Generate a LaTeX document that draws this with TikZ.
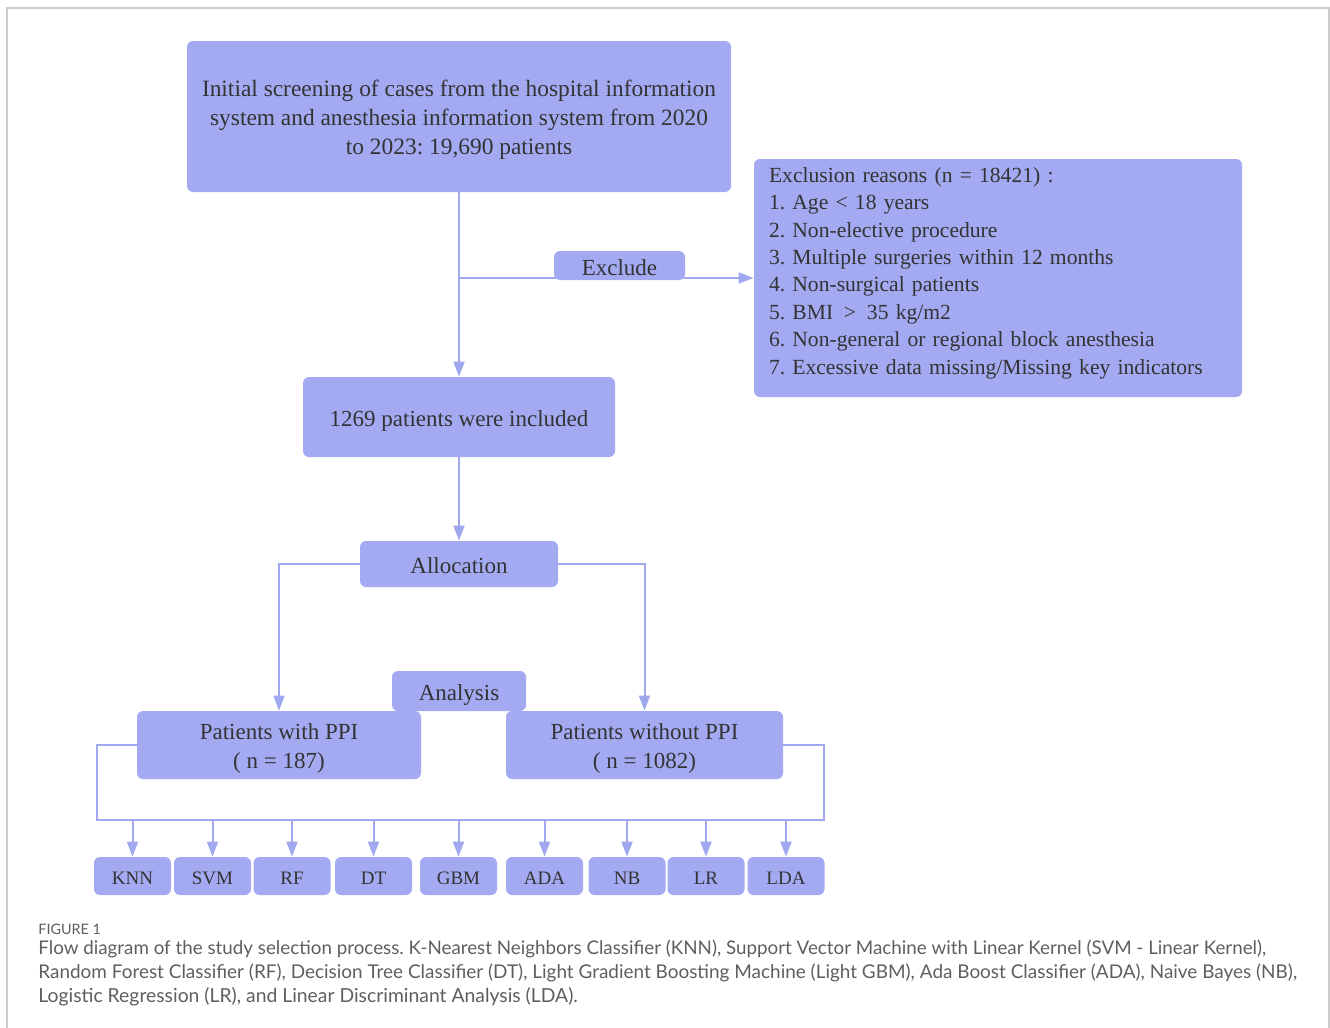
\documentclass[tikz,border=0pt]{standalone}
\usepackage{fontspec}
\setmainfont{Liberation Serif}
\newfontfamily\capfont{Lato}
\usetikzlibrary{arrows.meta}
\frenchspacing
\definecolor{boxc}{HTML}{A3AAF2}
\definecolor{linec}{HTML}{A0A8F0}
\definecolor{txtc}{HTML}{333333}
\definecolor{capc}{HTML}{5E5E5E}
\definecolor{framec}{HTML}{CCCCCC}
\tikzset{
  box/.style={fill=boxc, draw=none, rounded corners=3pt, inner sep=0pt, text=txtc, align=center,
    font=\fontsize{11.5}{14.5}\selectfont},
  one/.style={box, text height=11.8pt, text depth=2pt},
  small/.style={box, minimum width=38.5pt, minimum height=19pt, text height=10.2pt, text depth=2pt,
    font=\fontsize{9.5}{11}\selectfont},
  conn/.style={draw=linec, line width=1pt},
  arr/.style={conn, -{Triangle[length=7.5pt,width=5.5pt]}},
  capline/.style={anchor=base west, inner sep=0pt, text=capc},
}
\begin{document}
\begin{tikzpicture}[x=0.5pt,y=-0.5pt]
\useasboundingbox (0,0) rectangle (1330,1028);
\draw[framec, line width=0.6pt] (7,1040) -- (7,8) -- (1329,8) -- (1329,1040);

\node[box, minimum width=272pt, minimum height=75.5pt, text height=40.1pt, text depth=2pt,
  font=\fontsize{11.7}{14.5}\selectfont] (top) at (459,116.5)
  {Initial screening of cases from the hospital information\\system and anesthesia information system from 2020\\to 2023: 19,690 patients};
\node[box, minimum width=244pt, minimum height=119pt, text width=229pt, align=left,
  text height=8pt, text depth=103.7pt,
  font=\fontsize{10.8}{13.7}\selectfont] (excl) at (998,278)
  {Exclusion reasons (n = 18421) :\\
   1. Age < 18 years\\
   2. Non-elective procedure\\
   3. Multiple surgeries within 12 months\\
   4. Non-surgical patients\\
   5. BMI \,>\, 35 kg/m2\\
   6. Non-general or regional block anesthesia\\
   7. Excessive data missing/Missing key indicators};
\node[one, minimum width=156pt, minimum height=40pt] (incl) at (459,417) {1269 patients were included};
\node[one, minimum width=99pt, minimum height=23pt] (alloc) at (459,564) {Allocation};
\node[one, minimum width=67pt, minimum height=20pt] (anal) at (459,691) {Analysis};
\node[box, minimum width=142pt, minimum height=34pt, text height=25.6pt, text depth=2pt] (ppi) at (279,745)
  {Patients with PPI\\( n = 187)};
\node[box, minimum width=138.5pt, minimum height=34pt, text height=25.6pt, text depth=2pt] (noppi) at (644.5,745)
  {Patients without PPI\\( n = 1082)};

\node[small] (knn) at (132.5,876) {KNN};
\node[small] (svm) at (212.5,876) {SVM};
\node[small] (rf)  at (292,876) {RF};
\node[small] (dt)  at (373.5,876) {DT};
\node[small] (gbm) at (458.5,876) {GBM};
\node[small] (ada) at (544.5,876) {ADA};
\node[small] (nb)  at (627,876) {NB};
\node[small] (lr)  at (706,876) {LR};
\node[small] (lda) at (786,876) {LDA};

\coordinate (split) at (459,278);
\coordinate (busL) at (97,820);
\coordinate (busR) at (824,820);

\draw[arr] (top.south) -- (incl.north);
\draw[arr] (split) -- (excl.west);
\node[one, minimum width=65.5pt, minimum height=14.5pt] (exclude) at (619.5,265.5) {Exclude};
\draw[arr] (incl.south) -- (alloc.north);
\draw[arr] (alloc.west) -| (ppi.north);
\draw[arr] (alloc.east) -| (noppi.north);
\draw[conn] (ppi.west) -| (busL) -- (busR) |- (noppi.east);
\foreach \m in {knn,svm,rf,dt,gbm,ada,nb,lr,lda}
  \draw[arr] (\m.north |- busL) -- (\m.north);

\node[capline, font=\capfont\fontsize{7.2}{8}\selectfont] (figlab) at (38,934) {FIGURE 1};
\node[capline, font=\capfont\fontsize{9.39}{12}\selectfont] (cap1) at (38,954)
  {Flow diagram of the study selection process. K-Nearest Neighbors Classifier (KNN), Support Vector Machine with Linear Kernel (SVM - Linear Kernel),};
\node[capline, font=\capfont\fontsize{9.47}{12}\selectfont] (cap2) at (38,978)
  {Random Forest Classifier (RF), Decision Tree Classifier (DT), Light Gradient Boosting Machine (Light GBM), Ada Boost Classifier (ADA), Naive Bayes (NB),};
\node[capline, font=\capfont\fontsize{9.67}{12}\selectfont] (cap3) at (38,1002)
  {Logistic Regression (LR), and Linear Discriminant Analysis (LDA).};
\end{tikzpicture}
\end{document}
